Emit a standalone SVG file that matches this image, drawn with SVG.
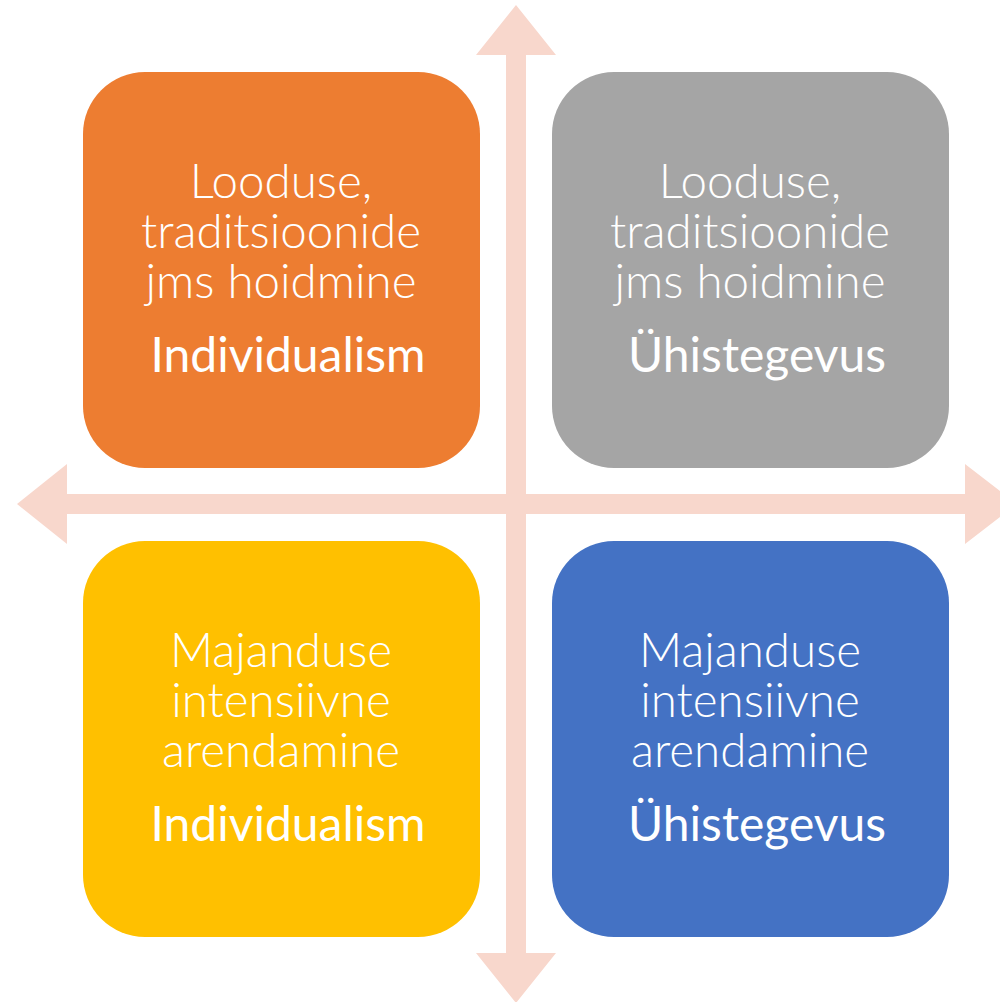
<svg xmlns="http://www.w3.org/2000/svg" width="1000" height="1002" viewBox="0 0 1000 1002">
<style>
.t{font-family:Lato,"Open Sans",sans-serif;font-weight:300;font-size:47.5px;fill:#fff;text-anchor:middle}
.l{font-family:Lato,"Open Sans",sans-serif;font-weight:400;font-size:48px;fill:#fff;text-anchor:middle}
.ax{fill:#F8D7CC}
</style>
<rect width="1000" height="1002" fill="#fff"/>
<g id="connectors">
<polygon class="ax" points="516,5 556,55 526,55 526,953 556,953 516,1003 476,953 506,953 506,55 476,55"/>
<polygon class="ax" points="17,504 67,464 67,494 965,494 965,464 1017,504 965,544 965,514 67,514 67,544"/>
</g>
<g id="node-tl">
<rect x="83" y="72" width="397" height="396" rx="62" fill="#ED7D31"/>
<text class="t" x="281" y="198">Looduse,</text>
<text class="t" x="281" y="248">traditsioonide</text>
<text class="t" x="281" y="298">jms hoidmine</text>
<text class="l" x="288" y="372">Individualism</text>
</g>
<g id="node-tr">
<rect x="552" y="72" width="397" height="396" rx="62" fill="#A5A5A5"/>
<text class="t" x="750" y="198">Looduse,</text>
<text class="t" x="750" y="248">traditsioonide</text>
<text class="t" x="750" y="298">jms hoidmine</text>
<text class="l" x="757" y="372">Ühistegevus</text>
</g>
<g id="node-bl">
<rect x="83" y="541" width="397" height="396" rx="62" fill="#FFC000"/>
<text class="t" x="281" y="667">Majanduse</text>
<text class="t" x="281" y="717">intensiivne</text>
<text class="t" x="281" y="767">arendamine</text>
<text class="l" x="288" y="841">Individualism</text>
</g>
<g id="node-br">
<rect x="552" y="541" width="397" height="396" rx="62" fill="#4472C4"/>
<text class="t" x="750" y="667">Majanduse</text>
<text class="t" x="750" y="717">intensiivne</text>
<text class="t" x="750" y="767">arendamine</text>
<text class="l" x="757" y="841">Ühistegevus</text>
</g>
</svg>
